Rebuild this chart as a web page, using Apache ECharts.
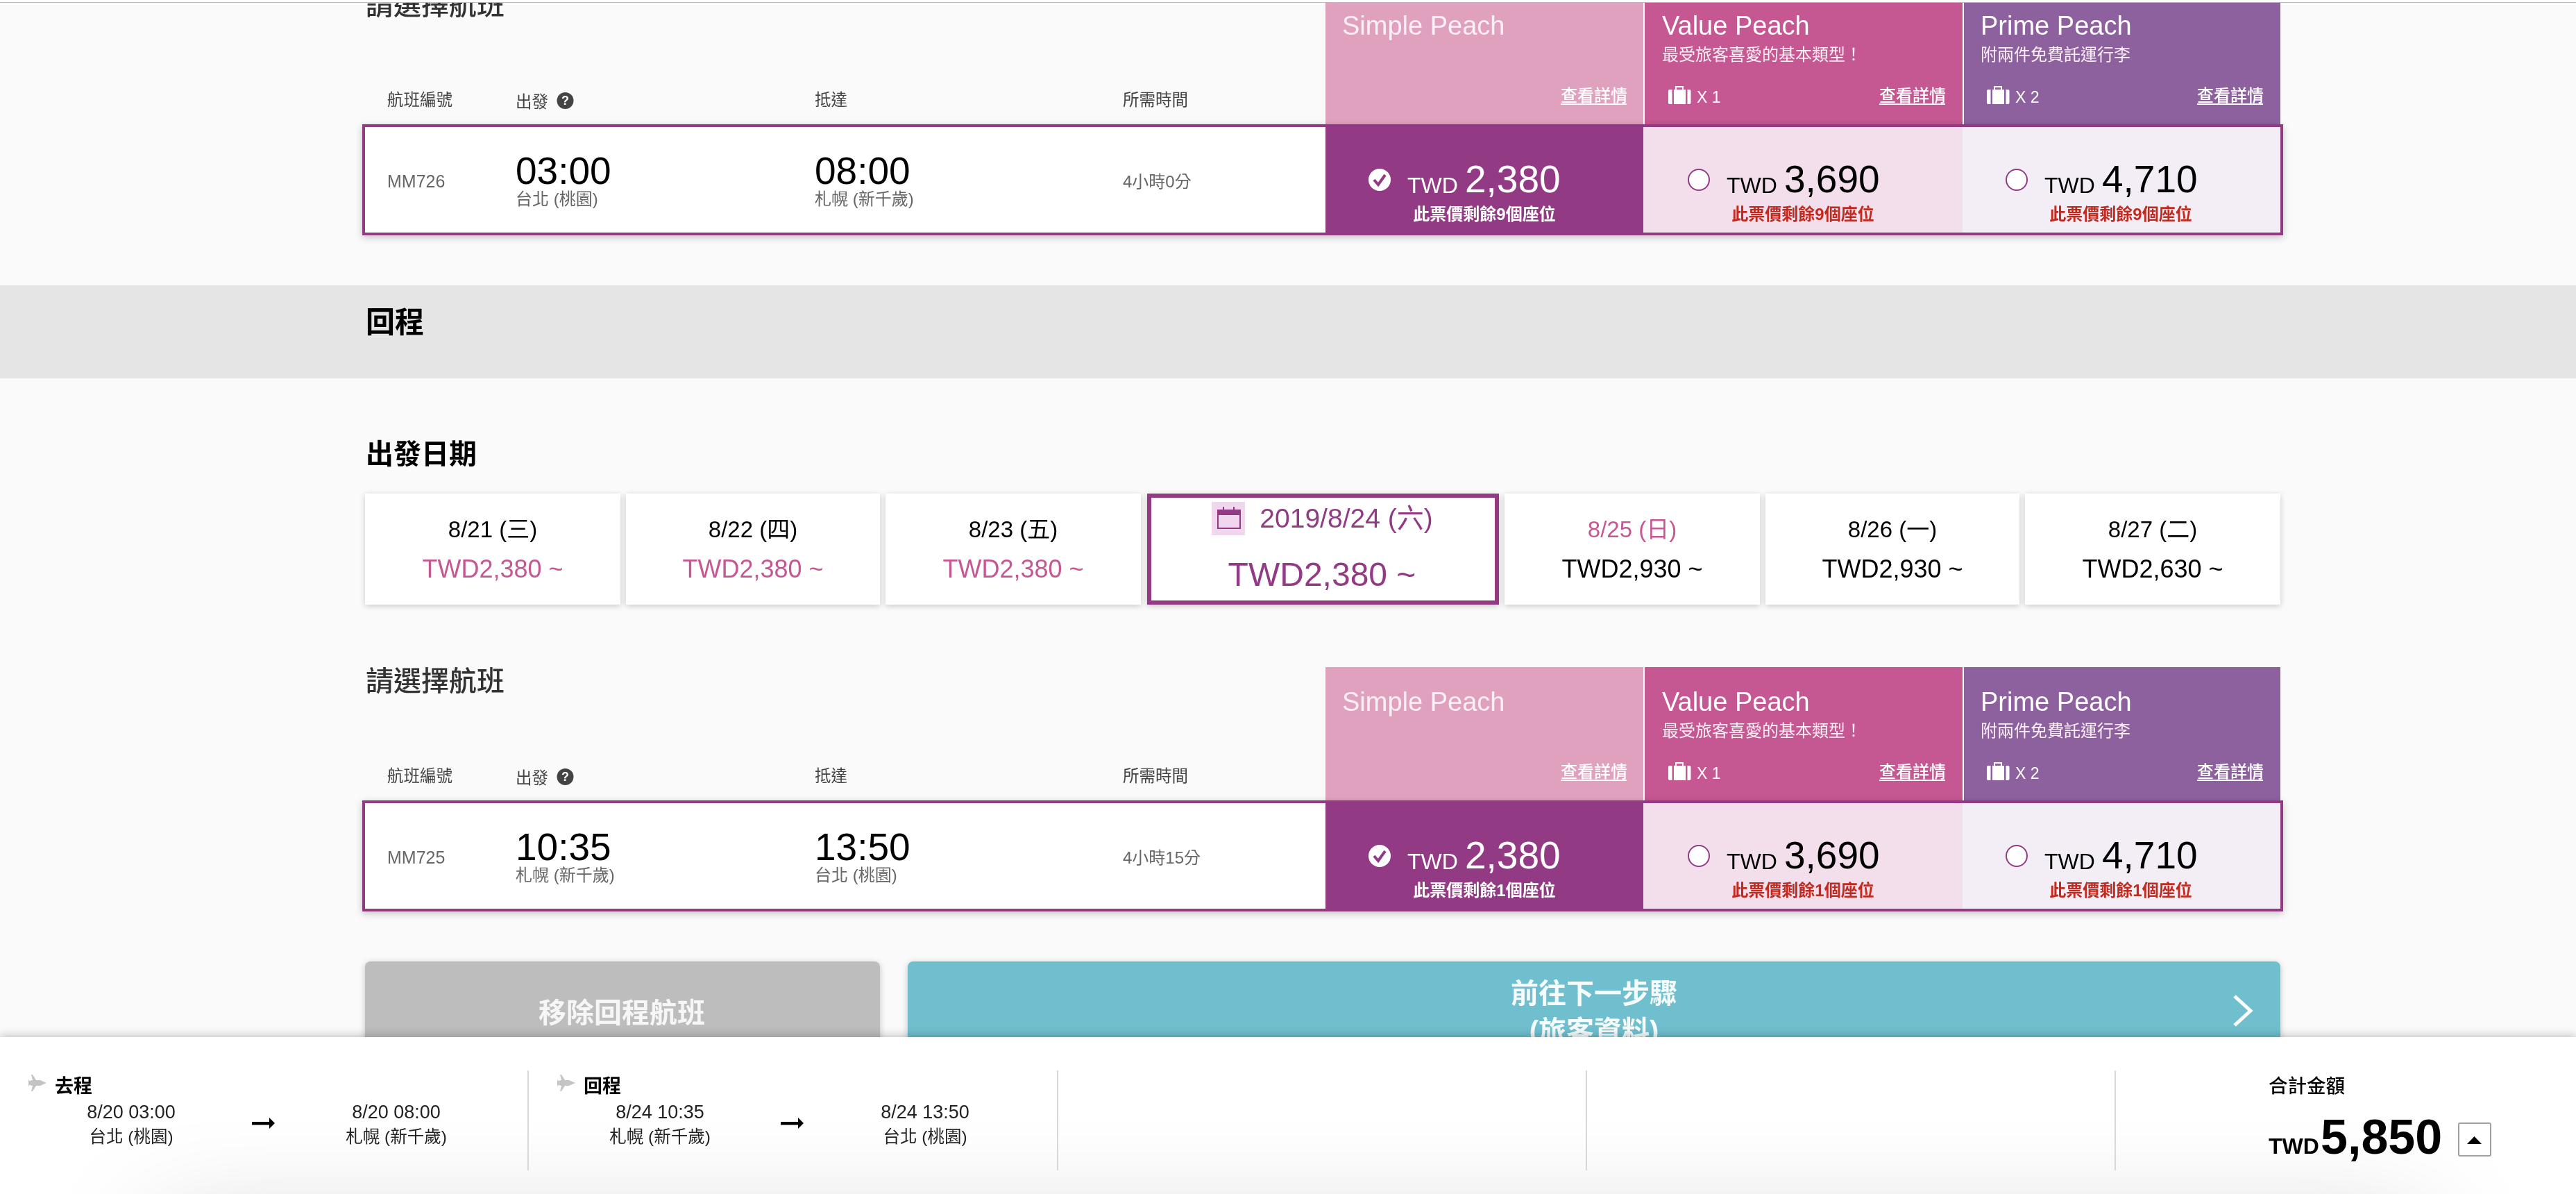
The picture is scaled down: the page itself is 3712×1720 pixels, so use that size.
<!DOCTYPE html>
<html>
<head>
<meta charset="utf-8">
<title>Peach</title>
<style>html,body{margin:0;height:100%;background:#fafafa}#main{width:100%;height:100%}</style>
<script src="https://cdn.jsdelivr.net/npm/echarts@6/dist/echarts.min.js"></script>
</head>
<body>
<div id="main"></div>
<script>
// page texts and values
var fareNames = ['Simple Peach', 'Value Peach', 'Prime Peach'];
var fareNotes = ['', '最受旅客喜愛的基本類型！', '附兩件免費託運行李'];
var fareBags = ['', 'X 1', 'X 2'];
var farePrices = ['2,380', '3,690', '4,710'];
var dateLabels = ['8/21 (三)', '8/22 (四)', '8/23 (五)', '2019/8/24 (六)', '8/25 (日)', '8/26 (一)', '8/27 (二)'];
var datePrices = ['TWD2,380 ~', 'TWD2,380 ~', 'TWD2,380 ~', 'TWD2,380 ~', 'TWD2,930 ~', 'TWD2,930 ~', 'TWD2,630 ~'];
var columnTitles = ['航班編號', '出發', '抵達', '所需時間'];
var flightOut = ['MM726', '03:00', '台北 (桃園)', '08:00', '札幌 (新千歲)', '4小時0分', '此票價剩餘9個座位'];
var flightBack = ['MM725', '10:35', '札幌 (新千歲)', '13:50', '台北 (桃園)', '4小時15分', '此票價剩餘1個座位'];
var legOut = ['去程', '8/20 03:00', '台北 (桃園)', '8/20 08:00', '札幌 (新千歲)'];
var legBack = ['回程', '8/24 10:35', '札幌 (新千歲)', '8/24 13:50', '台北 (桃園)'];
var totalPrice = '5,850';

var FONT = '"Liberation Sans","Noto Sans CJK TC",sans-serif';
var PURPLE = '#933a85', PINK = '#c55892', GREY = '#666666', RED = '#c02a1f';
var els = [];

function rect(x, y, w, h, fill, extra) {
    var style = Object.assign({fill: fill}, extra && extra.style);
    els.push({type: 'rect', silent: true, shape: {x: x, y: y, width: w, height: h, r: (extra && extra.r) || 0}, style: style});
}
function text(s, x, y, size, color, align, weight) {
    els.push({type: 'text', silent: true, style: {
        text: s, x: x, y: y + size * 0.09, fill: color,
        font: (weight || 'normal') + ' ' + size + 'px ' + FONT,
        align: align || 'left', textAlign: align || 'left',
        verticalAlign: 'middle', textVerticalAlign: 'middle'
    }});
}
function line(points, color, width) {
    els.push({type: 'polyline', silent: true, shape: {points: points}, style: {stroke: color, lineWidth: width, fill: null}});
}
function poly(points, fill) {
    els.push({type: 'polygon', silent: true, shape: {points: points}, style: {fill: fill}});
}
function circle(cx, cy, r, fill, stroke, width) {
    els.push({type: 'circle', silent: true, shape: {cx: cx, cy: cy, r: r}, style: {fill: fill, stroke: stroke, lineWidth: width || 0}});
}

function suitcase(x, y, bg) {
    rect(x + 11, y + 1, 10, 5, null, {style: {stroke: '#fff', lineWidth: 2}});
    rect(x, y + 5, 32.5, 21, '#fff', {r: 2});
    rect(x + 5.5, y + 5, 2.5, 21, bg);
    rect(x + 25, y + 5, 2.5, 21, bg);
}

// one flight block, dy moves the second block down the page
function flightBlock(dy, headTop, f) {
    var heads = ['#e0a1bf', '#c55892', '#8d619e'];
    var headX = [1910, 2370, 2830], headW = [458, 458, 456];
    var nameX = [1934, 2395, 2854], linkX = [2249, 2708, 3166], bagX = [0, 2404, 2863];
    var cells = [PURPLE, '#f3deeb', '#f3eef6'], cellX = [1910, 2368, 2828], cellW = [458, 460, 458];
    var radioX = [1988, 2448, 2906], twdX = [2028, 2488, 2946], numX = [2111, 2571, 3029], seatX = [2139, 2598, 3056];

    text('請選擇航班', 527, 6 + dy, 40, '#333333', 'left', 500);
    text(columnTitles[0], 558, 143 + dy, 23.5, '#444444');
    text(columnTitles[1], 743, 146 + dy, 23.5, '#444444');
    circle(814.5, 145 + dy, 12, '#444444');
    text('?', 814.5, 144 + dy, 18, '#ffffff', 'center', 'bold');
    text(columnTitles[2], 1174, 143 + dy, 23.5, '#444444');
    text(columnTitles[3], 1618, 143 + dy, 23.5, '#444444');

    heads.forEach(function (c, i) {
        rect(headX[i], headTop, headW[i], 180 + dy - headTop, c);
        text(fareNames[i], nameX[i], 36 + dy, 38, i === 0 ? '#fbeff5' : '#ffffff');
        if (fareNotes[i]) text(fareNotes[i], nameX[i], 78 + dy, 24, '#fbeff5');
        if (fareBags[i]) {
            suitcase(bagX[i], 124 + dy, c);
            text(fareBags[i], bagX[i] + 41, 140 + dy, 23, '#ffffff');
        }
        text('查看詳情', linkX[i], 137 + dy, 24, '#ffffff', 'left', 500);
        rect(linkX[i], 149 + dy, 95, 2, '#ffffff');
    });

    rect(522, 179 + dy, 2768, 160, PURPLE, {style: {shadowBlur: 10, shadowColor: 'rgba(0,0,0,0.22)', shadowOffsetY: 3}});
    rect(526, 183 + dy, 1384, 152, '#ffffff');
    cells.forEach(function (c, i) { rect(cellX[i], 183 + dy, cellW[i], 152, c); });

    text(f[0], 558, 261 + dy, 25, GREY);
    text(f[1], 743, 245 + dy, 55, '#000000');
    text(f[2], 743, 286 + dy, 24, GREY);
    text(f[3], 1174, 245 + dy, 55, '#000000');
    text(f[4], 1174, 286 + dy, 24, GREY);
    text(f[5], 1618, 261 + dy, 24, GREY);

    cells.forEach(function (c, i) {
        var on = i === 0, ink = on ? '#ffffff' : '#000000';
        if (on) {
            circle(radioX[i], 259 + dy, 16, '#ffffff');
            line([[radioX[i] - 8, 259 + dy], [radioX[i] - 2, 266 + dy], [radioX[i] + 8, 252 + dy]], PURPLE, 4);
        } else {
            circle(radioX[i], 259 + dy, 15, '#ffffff', PURPLE, 2);
        }
        text('TWD', twdX[i], 266 + dy, 32, ink);
        text(farePrices[i], numX[i], 257 + dy, 55, ink);
        text(f[6], seatX[i], 308 + dy, 24, on ? '#ffffff' : RED, 'center', 'bold');
    });
}

function legBlock(leg, x) {
    poly([[x + 26, 1560], [x + 17, 1556], [x + 11, 1556], [x + 6, 1548], [x + 4, 1548], [x + 6, 1556], [x + 1, 1557],
        [x, 1554], [x, 1566], [x + 1, 1563], [x + 6, 1564], [x + 4, 1572], [x + 6, 1572], [x + 11, 1564], [x + 17, 1564]], '#c4c4c4');
    text(leg[0], x + 38, 1564, 27, '#000000', 'left', 'bold');
    text(leg[1], x + 148, 1601, 27, '#222222', 'center');
    text(leg[2], x + 148, 1637, 24.5, '#222222', 'center');
    rect(x + 322, 1616, 29, 4.5, '#000000');
    poly([[x + 347, 1610], [x + 355, 1618], [x + 347, 1626]], '#000000');
    text(leg[3], x + 530, 1601, 27, '#222222', 'center');
    text(leg[4], x + 530, 1637, 24.5, '#222222', 'center');
}

// outbound block tail and grey band
flightBlock(0, 4, flightOut);
rect(0, 411, 3712, 134, '#e5e5e5');
text('回程', 527, 464, 42, '#000000', 'left', 'bold');

// date strip
text('出發日期', 527, 653, 40, '#000000', 'left', 'bold');
var cardX = [526, 902, 1276, 1653, 2168, 2544, 2918], cardW = [368, 366, 368, 507, 368, 366, 368];
dateLabels.forEach(function (label, i) {
    rect(cardX[i], 711, cardW[i], 160, i === 3 ? PURPLE : '#ffffff', {style: {shadowBlur: 8, shadowColor: 'rgba(0,0,0,0.2)', shadowOffsetY: 2}});
    var cx = cardX[i] + cardW[i] / 2;
    if (i === 3) {
        rect(cardX[i] + 6, 717, cardW[i] - 12, 148, '#ffffff');
        rect(1746, 723, 48, 48, '#f0d7ee');
        rect(1755, 735, 32, 26, null, {style: {stroke: PURPLE, lineWidth: 2}});
        rect(1755, 734, 32, 8, PURPLE);
        rect(1762, 730, 2, 8, PURPLE);
        rect(1777, 730, 2, 8, PURPLE);
        text(label, 1940, 746, 39, PURPLE, 'center');
        text(datePrices[i], 1905, 826, 48, PURPLE, 'center');
    } else {
        text(label, cx, 762, 33, i === 4 ? PINK : '#000000', 'center');
        text(datePrices[i], cx, 819, 36, i < 3 ? PINK : '#000000', 'center');
    }
});

flightBlock(974, 961, flightBack);

// buttons, cut by the footer
var btnShadow = {shadowBlur: 10, shadowColor: 'rgba(0,0,0,0.22)', shadowOffsetY: 2};
rect(526, 1385, 742, 130, '#bdbdbd', {r: 8, style: btnShadow});
text('移除回程航班', 896, 1458, 40, '#f6f6f6', 'center', 'bold');
rect(1308, 1385, 1978, 130, '#6fbfce', {r: 8, style: btnShadow});
text('前往下一步驟', 2297, 1430, 40, '#f6fbfc', 'center', 'bold');
text('(旅客資料)', 2297, 1484, 40, '#f6fbfc', 'center', 'bold');
line([[3220, 1435], [3243, 1456], [3220, 1477]], '#ffffff', 5);

// footer
rect(0, 1494, 3712, 226, '#ffffff', {style: {shadowBlur: 14, shadowColor: 'rgba(0,0,0,0.3)'}});
rect(230, 1790, 3260, 60, '#eeeeee', {style: {shadowBlur: 160, shadowColor: 'rgba(0,0,0,0.35)'}});
[760, 1523, 2285, 3047].forEach(function (x) { rect(x, 1542, 2, 144, '#d8d8d8'); });
legBlock(legOut, 41);
legBlock(legBack, 803);
text('合計金額', 3269, 1564, 27.5, '#000000', 'left', 500);
text('TWD', 3269, 1650, 32, '#000000', 'left', 'bold');
text(totalPrice, 3344, 1636, 70, '#000000', 'left', 'bold');
rect(3543, 1618, 46, 47, '#ffffff', {r: 2, style: {stroke: '#a0a0a0', lineWidth: 2}});
poly([[3555, 1648], [3576, 1648], [3565.5, 1637]], '#000000');

// the thin browser edge on top of everything
rect(0, 0, 3712, 3, '#ffffff');
rect(0, 3, 3712, 1, '#bbbbbb');

var chartDom = document.getElementById('main');
var myChart = echarts.init(chartDom);
var option = {
    backgroundColor: '#fafafa',
    animation: false,
    graphic: {elements: els}
};
myChart.setOption(option);
window.onresize = function () {
    myChart.resize();
};
</script>
</body>
</html>
